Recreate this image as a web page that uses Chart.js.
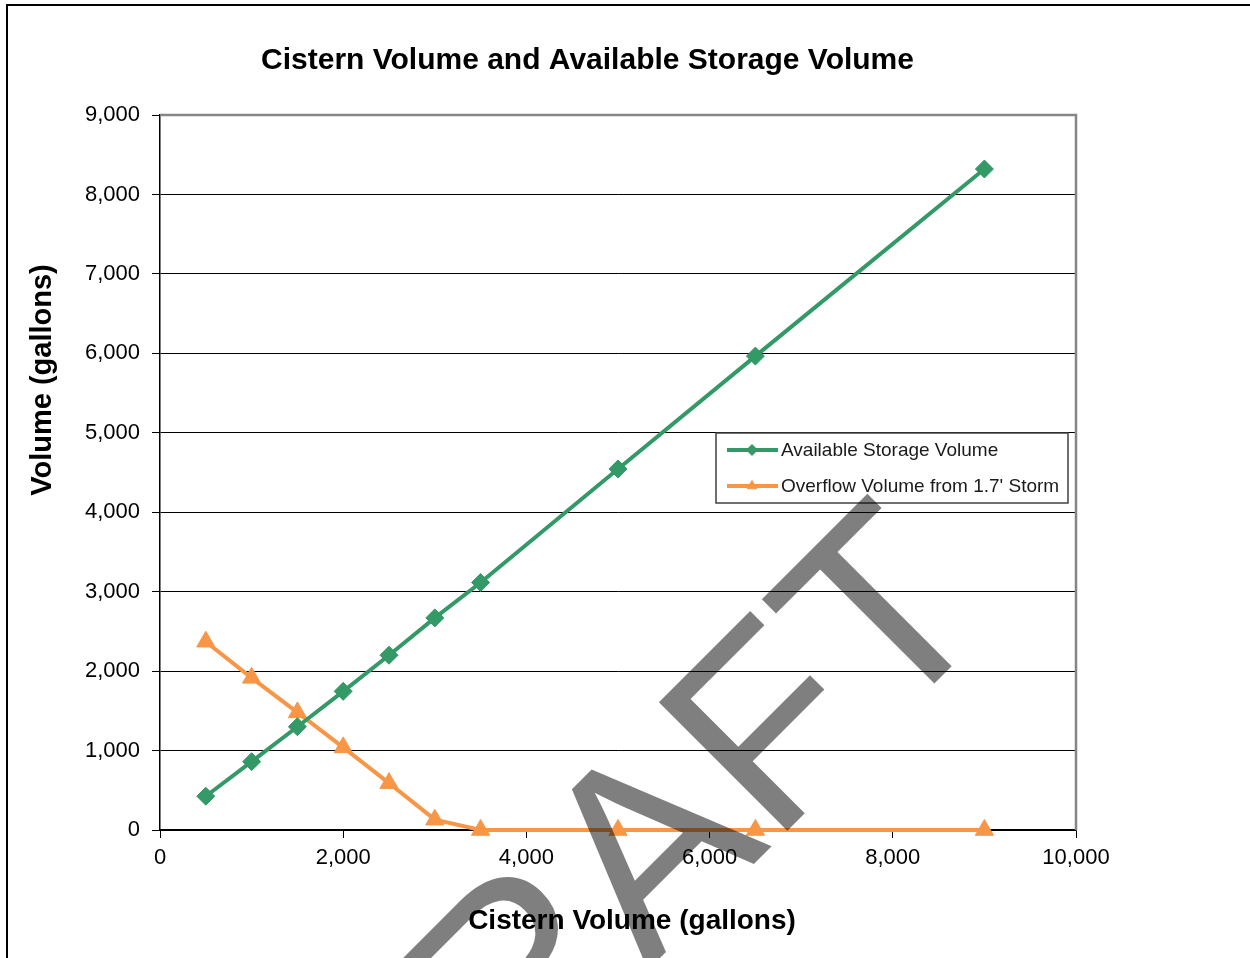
<!DOCTYPE html>
<html>
<head>
<meta charset="utf-8">
<title>Cistern Volume and Available Storage Volume</title>
<script src="https://cdn.jsdelivr.net/npm/chart.js@4.4.1/dist/chart.umd.min.js"></script>
<style>
  html, body { margin: 0; padding: 0; background: #fff; overflow: hidden; }
  #frame { position: absolute; left: 6px; top: 4px; width: 1400px; height: 1100px; border: 2px solid #000; }
  #wrap { position: absolute; left: 0; top: 0; width: 1175px; height: 958px; }
</style>
</head>
<body>
<div id="frame"></div>
<div id="wrap"><canvas id="cistern" width="1175" height="958"></canvas></div>
<script>
// values
var cisternVolumes = [500, 1000, 1500, 2000, 2500, 3000, 3500, 5000, 6500, 9000];
var availableStorage = [425, 860, 1300, 1745, 2200, 2670, 3115, 4545, 5965, 8320];
var overflowVolume = [2370, 1915, 1480, 1040, 590, 130, 0, 0, 0, 0];
var seriesNames = ['Available Storage Volume', "Overflow Volume from 1.7' Storm"];
var xTickStep = 2000, xMax = 10000;
var yTickStep = 1000, yMax = 9000;

var FONT = '"Liberation Sans", Arial, sans-serif';
var GREEN = '#339966';
var ORANGE = '#f79646';

Chart.defaults.font.family = FONT;
Chart.defaults.color = '#000';

function points(ys) {
    return cisternVolumes.map(function (x, i) { return { x: x, y: ys[i] }; });
}

// titles, plot border, in-plot legend and the DRAFT stamp
var extras = {
    id: 'extras',
    beforeDatasetsDraw: function (chart) {
        var ctx = chart.ctx, a = chart.chartArea;
        ctx.save();
        ctx.strokeStyle = '#868686';
        ctx.lineWidth = 2.5;
        ctx.beginPath();
        ctx.moveTo(a.left, a.top);
        ctx.lineTo(a.right, a.top);
        ctx.lineTo(a.right, a.bottom);
        ctx.stroke();
        ctx.restore();
    },
    afterDatasetsDraw: function (chart) {
        var ctx = chart.ctx;
        ctx.save();
        // axis titles
        ctx.fillStyle = '#000';
        ctx.textAlign = 'center';
        ctx.textBaseline = 'middle';
        ctx.font = 'bold 28px ' + FONT;
        ctx.fillText('Cistern Volume (gallons)', 632, 921);
        ctx.save();
        ctx.translate(43, 380);
        ctx.rotate(-Math.PI / 2);
        ctx.font = 'bold 29px ' + FONT;
        ctx.fillText('Volume (gallons)', 0, 0);
        ctx.restore();

        // legend box
        ctx.fillStyle = '#fff';
        ctx.fillRect(716, 433, 352, 70);
        ctx.strokeStyle = '#404040';
        ctx.lineWidth = 1.5;
        ctx.strokeRect(716, 433, 352, 70);
        chart.data.datasets.forEach(function (ds, i) {
            var y = 450 + i * 36;
            ctx.strokeStyle = ds.borderColor;
            ctx.lineWidth = 4;
            ctx.beginPath();
            ctx.moveTo(727, y);
            ctx.lineTo(778, y);
            ctx.stroke();
            ctx.fillStyle = ds.borderColor;
            ctx.strokeStyle = ds.borderColor;
            ctx.lineWidth = 1;
            Chart.helpers.drawPoint(ctx, { pointStyle: ds.pointStyle, radius: 5.5, rotation: 0, borderWidth: 1 }, 752, y);
            ctx.fillStyle = '#1a1a1a';
            ctx.textAlign = 'left';
            ctx.textBaseline = 'middle';
            ctx.font = '19px ' + FONT;
            ctx.fillText(ds.label, 781, y + 1);
        });
        ctx.restore();
    },
    afterDraw: function (chart) {
        var ctx = chart.ctx;
        ctx.save();
        ctx.translate(689, 929);
        ctx.rotate(-Math.PI / 4);
        ctx.font = '264px ' + FONT;
        ctx.fillStyle = 'rgba(0,0,0,0.5)';
        ctx.textAlign = 'center';
        ctx.textBaseline = 'alphabetic';
        ctx.fillText('DRAFT', 0, 0);
        ctx.restore();
    }
};

var chart = new Chart(document.getElementById('cistern').getContext('2d'), {
    type: 'line',
    data: {
        datasets: [
            {
                label: seriesNames[0],
                data: points(availableStorage),
                borderColor: GREEN,
                backgroundColor: GREEN,
                borderWidth: 4,
                pointStyle: 'rectRot',
                pointRadius: 9,
                pointBorderWidth: 1,
                tension: 0,
                fill: false,
                clip: false
            },
            {
                label: seriesNames[1],
                data: points(overflowVolume),
                borderColor: ORANGE,
                backgroundColor: ORANGE,
                borderWidth: 4,
                pointStyle: 'triangle',
                pointRadius: 10.5,
                pointBorderWidth: 1,
                tension: 0,
                fill: false,
                clip: false
            }
        ]
    },
    options: {
        responsive: false,
        animation: false,
        layout: { padding: 0 },
        plugins: {
            legend: { display: false },
            tooltip: { enabled: false },
            title: {
                display: true,
                text: 'Cistern Volume and Available Storage Volume',
                color: '#000',
                font: { size: 30, weight: 'bold' },
                padding: { top: 43, bottom: 36 }
            }
        },
        scales: {
            x: {
                type: 'linear',
                min: 0,
                max: xMax,
                afterFit: function (s) { s.height = 128; },
                border: { color: '#000', width: 1.5 },
                grid: { drawOnChartArea: false, tickLength: 8, color: '#000', tickColor: '#000' },
                ticks: { stepSize: xTickStep, padding: 7, color: '#000', font: { size: 22 }, maxRotation: 0 }
            },
            y: {
                type: 'linear',
                min: 0,
                max: yMax,
                afterFit: function (s) { s.width = 160; },
                border: { color: '#000', width: 1.5 },
                grid: { color: '#000', lineWidth: 1, tickLength: 8, tickColor: '#000' },
                ticks: { stepSize: yTickStep, padding: 12, color: '#000', font: { size: 22 } }
            },
            // empty space right of the plot, so the title centres like the original
            yRight: {
                type: 'linear',
                position: 'right',
                afterFit: function (s) { s.width = 99; },
                border: { display: false },
                grid: { display: false },
                ticks: { display: false }
            }
        }
    },
    plugins: [extras]
});
</script>
</body>
</html>
